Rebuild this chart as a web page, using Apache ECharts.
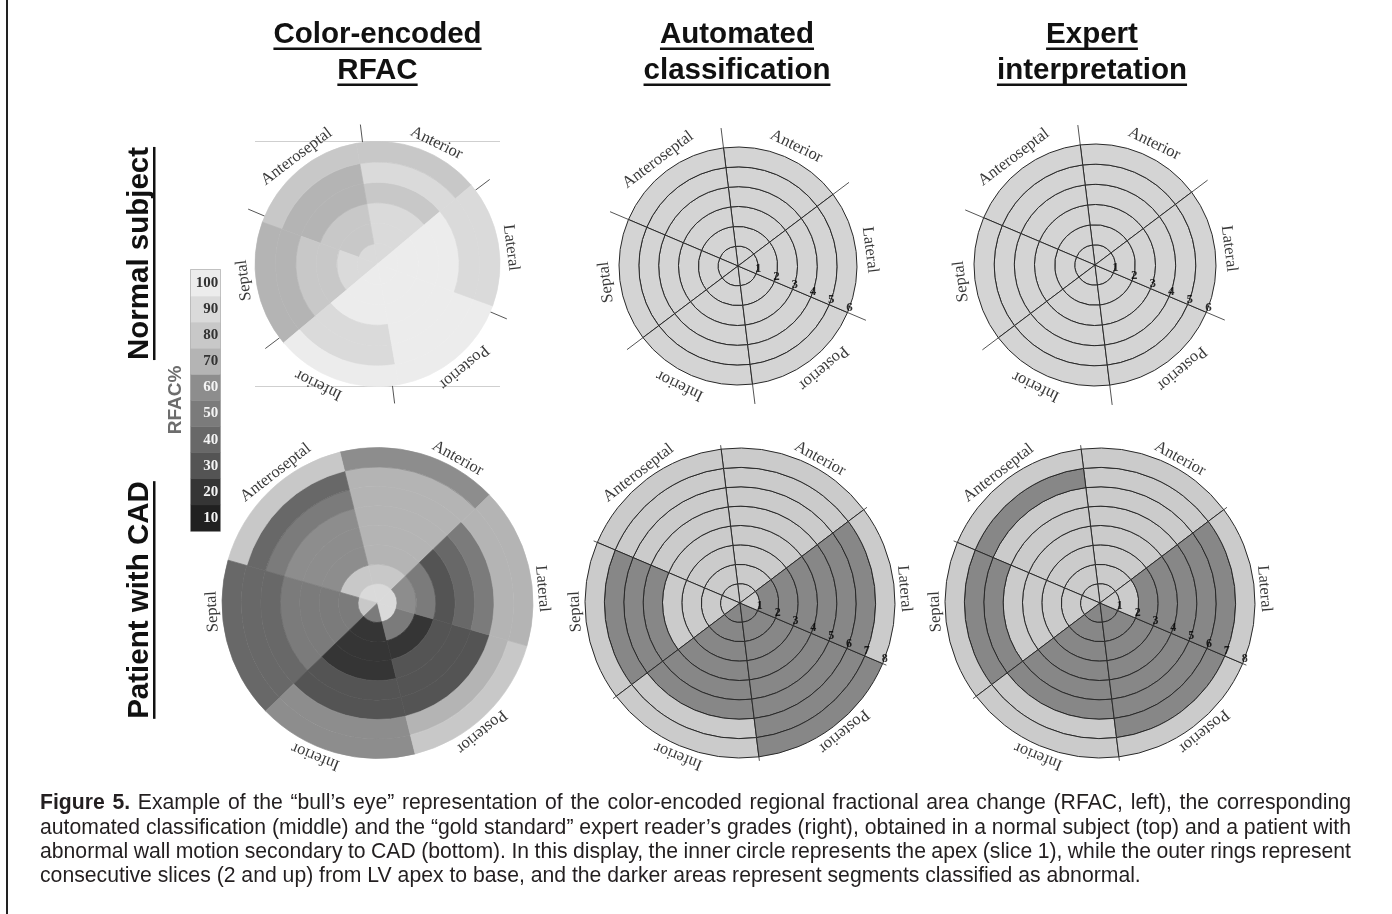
<!DOCTYPE html>
<html><head><meta charset="utf-8">
<script src="https://cdn.jsdelivr.net/npm/echarts/dist/echarts.min.js"></script>
<style>html,body{margin:0;padding:0;background:#fff}#c{width:1392px;height:914px}</style>
</head><body><div id="c"></div>
<script>
// ---------------- data ----------------
const sectorNames = ['Anterior','Anteroseptal','Septal','Inferior','Posterior','Lateral'];
const columnTitles = [['Color-encoded','RFAC'],['Automated','classification'],['Expert','interpretation']];
const rowTitles = ['Normal subject','Patient with CAD'];
const rfacLevels = [10,20,30,40,50,60,70,80,90,100];
const rfacGreys = ['#202020','#353535','#545454','#686868','#7b7b7b','#8d8d8d','#b4b4b4','#c8c8c8','#dadada','#ececec'];
const normalSlices = ['1','2','3','4','5','6'];
const cadSlices = ['1','2','3','4','5','6','7','8'];
// RFAC % per slice (apex first); sectors in sectorNames order
const normalRFAC = [
  [90, 90, 90, 100, 100, 100],
  [90, 80, 90, 100, 100, 100],
  [90, 80, 80, 100, 100, 100],
  [80, 70, 80, 90, 100, 100],
  [90, 70, 70, 90, 100, 90],
  [80, 80, 70, 100, 100, 90]
];
const cadRFAC = [
  [90, 90, 80, 50, 90, 90],
  [80, 80, 50, 20, 50, 60],
  [70, 60, 50, 20, 20, 50],
  [70, 60, 50, 20, 30, 30],
  [70, 60, 50, 30, 30, 40],
  [70, 50, 40, 30, 30, 50],
  [70, 40, 40, 60, 70, 70],
  [60, 80, 40, 60, 80, 70]
];
// classification: 0 = normal, 1 = abnormal
const normalAuto = [
  [0,0,0,0,0,0],[0,0,0,0,0,0],[0,0,0,0,0,0],[0,0,0,0,0,0],[0,0,0,0,0,0],[0,0,0,0,0,0]
];
const normalExpert = [
  [0,0,0,0,0,0],[0,0,0,0,0,0],[0,0,0,0,0,0],[0,0,0,0,0,0],[0,0,0,0,0,0],[0,0,0,0,0,0]
];
const cadAuto = [
  [0,0,0,1,1,0],
  [0,0,0,1,1,1],
  [0,0,0,1,1,1],
  [0,0,0,1,1,1],
  [0,0,1,1,1,1],
  [0,0,1,1,1,1],
  [0,0,1,0,1,1],
  [0,0,0,0,1,0]
];
const cadExpert = [
  [0,0,0,1,1,0],
  [0,0,0,1,1,0],
  [0,0,0,1,1,1],
  [0,0,0,1,1,1],
  [0,0,0,1,1,1],
  [0,0,1,1,1,1],
  [0,1,1,0,1,1],
  [0,0,0,0,0,0]
];
const captionLines = [
  'Figure 5. Example of the \u201cbull\u2019s eye\u201d representation of the color-encoded regional fractional area change (RFAC, left), the corresponding',
  'automated classification (middle) and the \u201cgold standard\u201d expert reader\u2019s grades (right), obtained in a normal subject (top) and a patient with',
  'abnormal wall motion secondary to CAD (bottom). In this display, the inner circle represents the apex (slice 1), while the outer rings represent',
  'consecutive slices (2 and up) from LV apex to base, and the darker areas represent segments classified as abnormal.'
];

// ---------------- layout ----------------
const START = 37;
const angTop = [64,127,187,244,310,7];
const angBot = [61,128,183,248,309,5];
const panels = [
  {data: normalRFAC,  kind:'rfac', cx:377.5, cy:264, R:122.5, rot:3, tick:18, gap:12, ang:angTop},
  {data: normalAuto,  kind:'cls',  cx:738,   cy:266, R:119,   rot:0, tick:20, gap:14, ang:angTop, slices:normalSlices, numSize:13},
  {data: normalExpert,kind:'cls',  cx:1095,  cy:265, R:121,   rot:0, tick:20, gap:14, ang:angTop, slices:normalSlices, numSize:13},
  {data: cadRFAC,     kind:'rfac', cx:377.5, cy:603, R:155.5, rot:7, tick:0,  gap:10, ang:angBot},
  {data: cadAuto,     kind:'cls',  cx:740,   cy:603, R:155,   rot:0, tick:4,  gap:10, ang:angBot, slices:cadSlices, numSize:12},
  {data: cadExpert,   kind:'cls',  cx:1100,  cy:603, R:155,   rot:0, tick:4,  gap:10, ang:angBot, slices:cadSlices, numSize:12}
];
const SANS = '"Liberation Sans", Arial, Helvetica, sans-serif';
const SERIF = '"Liberation Serif", "Times New Roman", serif';

const mctx = document.createElement('canvas').getContext('2d');
function textW(str, font){ mctx.font = font; return mctx.measureText(str).width; }

function makeRender(outlined){
  return function(params, api){
    const cs = params.coordSys;
    const ring = api.value(0), a0 = api.value(1), a1 = api.value(2);
    const pIn = api.coord([ring - 1, a0]);
    const pOut = api.coord([ring, a0]);
    const pEnd = api.coord([ring, a1]);
    const r0 = Math.hypot(pIn[0]-cs.cx, pIn[1]-cs.cy);
    const r = Math.hypot(pOut[0]-cs.cx, pOut[1]-cs.cy);
    const s0 = Math.atan2(pOut[1]-cs.cy, pOut[0]-cs.cx);
    const s1 = Math.atan2(pEnd[1]-cs.cy, pEnd[0]-cs.cx);
    const color = api.visual('color');
    return {
      type:'sector',
      shape:{cx:cs.cx, cy:cs.cy, r0:r0, r:r, startAngle:s0, endAngle:s1, clockwise:false},
      style:{fill:color, stroke: outlined ? '#2a2a2a' : color, lineWidth: outlined ? 1 : 0.7}
    };
  };
}

const polar = [], radiusAxis = [], angleAxis = [], series = [];
panels.forEach((p, i) => {
  polar.push({center:[p.cx, p.cy], radius:p.R});
  radiusAxis.push({polarIndex:i, type:'value', min:0, max:p.data.length,
    axisLine:{show:false}, axisTick:{show:false}, axisLabel:{show:false}, splitLine:{show:false}});
  angleAxis.push({polarIndex:i, type:'value', min:0, max:360, interval:60, startAngle:START, clockwise:false,
    axisLine:{show:false}, axisLabel:{show:false}, splitLine:{show:false},
    axisTick:{show:p.tick > 0, inside:false, length:p.tick, lineStyle:{color:'#555', width:1}}});
  const segs = [];
  p.data.forEach((row, r) => row.forEach((v, s) => {
    const a0 = s*60 + p.rot;
    segs.push([r+1, a0, a0+60, v]);
  }));
  series.push({type:'custom', coordinateSystem:'polar', polarIndex:i,
    dimensions:['ring','a0','a1','value'], encode:{radius:0, angle:1},
    data:segs, renderItem:makeRender(p.kind === 'cls'), silent:true, z:2});
});

// colour bar (series index 6)
series.push({type:'heatmap', xAxisIndex:0, yAxisIndex:0, silent:true,
  data: rfacLevels.map((l, i) => ({value:[0, i, l], label:{color: l >= 70 ? '#333333' : '#f4f4f4'}})),
  label:{show:true, position:'insideRight', distance:2, formatter: q => q.value[2],
    fontFamily:SERIF, fontWeight:'bold', fontSize:15}
});

// sector names and slice numbers
panels.forEach((p, i) => {
  const n = p.data.length;
  const rl = n * (p.R + p.gap) / p.R;
  series.push({type:'scatter', coordinateSystem:'polar', polarIndex:i, symbolSize:1, clip:false, silent:true, z:5,
    itemStyle:{color:'rgba(0,0,0,0)'},
    label:{show:true, position:'inside', formatter:'{b}', fontFamily:SERIF, fontSize:16.5, color:'#050505'},
    data: sectorNames.map((nm, k) => ({name:nm, value:[rl, ((p.ang[k] - START) + 360) % 360], label:{rotate: p.ang[k] - 90}}))
  });
  if (p.slices) {
    series.push({type:'scatter', coordinateSystem:'polar', polarIndex:i, symbolSize:1, clip:false, silent:true, z:6,
      itemStyle:{color:'rgba(0,0,0,0)'},
      label:{show:true, position:'inside', formatter:'{b}', offset:[2,-5], fontFamily:SERIF, fontWeight:'bold', fontSize:p.numSize, color:'#000'},
      data: p.slices.map((t, k) => ({name:t, value:[k+1, 300]}))
    });
  }
});

// ---------------- graphics (texts) ----------------
const graphic = [];
const titleFont = 'bold 29.5px ' + SANS;
const titleX = [377.5, 737, 1092];
const titleY = [35, 71];
columnTitles.forEach((lines, c) => lines.forEach((t, j) => {
  const w = textW(t, titleFont);
  graphic.push({type:'text', x:titleX[c], y:titleY[j], silent:true,
    style:{text:t, font:titleFont, fill:'#111', align:'center', verticalAlign:'middle', textAlign:'center', textVerticalAlign:'middle'}});
  graphic.push({type:'rect', silent:true, shape:{x:titleX[c]-w/2, y:titleY[j]+12.5, width:w, height:2.5}, style:{fill:'#111'}});
}));
const rowY = [253.5, 600];
rowTitles.forEach((t, j) => {
  const w = textW(t, titleFont);
  graphic.push({type:'text', x:139.5, y:rowY[j], rotation:Math.PI/2, silent:true,
    style:{text:t, font:titleFont, fill:'#111', align:'center', verticalAlign:'middle', textAlign:'center', textVerticalAlign:'middle'}});
  graphic.push({type:'rect', silent:true, shape:{x:153, y:rowY[j]-w/2, width:2.5, height:w}, style:{fill:'#111'}});
});
// RFAC% label
graphic.push({type:'text', x:175.5, y:400, rotation:Math.PI/2, silent:true,
  style:{text:'RFAC%', font:'bold 19px ' + SANS, fill:'#6d6d6d', align:'center', verticalAlign:'middle', textAlign:'center', textVerticalAlign:'middle'}});
// top-left image frame lines
{
  const p = panels[0];
  [p.cy - p.R, p.cy + p.R].forEach(y => graphic.push({type:'line', silent:true,
    shape:{x1:p.cx - p.R, y1:y, x2:p.cx + p.R, y2:y}, style:{stroke:'#cfcfcf', lineWidth:1}}));
}
// left frame
graphic.push({type:'line', silent:true, shape:{x1:7, y1:0, x2:7, y2:914}, style:{stroke:'#222', lineWidth:2}});
// caption (justified)
{
  const capX0 = 40, capX1 = 1351, capYs = [803, 828, 852, 876];
  const fR = s => s + 'px ' + SANS, fB = s => 'bold ' + s + 'px ' + SANS;
  const fs = Math.round(1100 / textW(captionLines[3], fR(100)) * 100 * 10) / 10;
  captionLines.forEach((line, li) => {
    const words = line.split(' ');
    const fonts = words.map((w, k) => (li === 0 && k < 2) ? fB(fs) : fR(fs));
    const ws = words.map((w, k) => textW(w, fonts[k]));
    const total = ws.reduce((a, b) => a + b, 0);
    const gap = li < 3 ? (capX1 - capX0 - total) / (words.length - 1) : textW(' ', fR(fs));
    let x = capX0;
    words.forEach((w, k) => {
      graphic.push({type:'text', x:x, y:capYs[li], silent:true,
        style:{text:w, font:fonts[k], fill:'#231f20', align:'left', verticalAlign:'middle', textAlign:'left', textVerticalAlign:'middle'}});
      x += ws[k] + gap;
    });
  });
}

const chart = echarts.init(document.getElementById('c'), null, {renderer:'canvas'});
chart.setOption({
  animation:false,
  backgroundColor:'#ffffff',
  polar, radiusAxis, angleAxis,
  grid:[{left:191, top:270, width:29, height:261, show:true, borderColor:'#9a9a9a', borderWidth:1.5, backgroundColor:'#fff'}],
  xAxis:[{type:'category', data:['RFAC'], show:false, gridIndex:0}],
  yAxis:[{type:'category', data:rfacLevels.map(String), show:false, gridIndex:0}],
  visualMap:[
    {type:'piecewise', show:false, seriesIndex:[0,3,6], pieces: rfacLevels.map((l, i) => ({value:l, color:rfacGreys[i]}))},
    {type:'piecewise', show:false, seriesIndex:[1,2], pieces:[{value:0, color:'#d4d4d4'}, {value:1, color:'#888888'}]},
    {type:'piecewise', show:false, seriesIndex:[4,5], pieces:[{value:0, color:'#cbcbcb'}, {value:1, color:'#878787'}]}
  ],
  series,
  graphic
});
</script>
</body></html>
